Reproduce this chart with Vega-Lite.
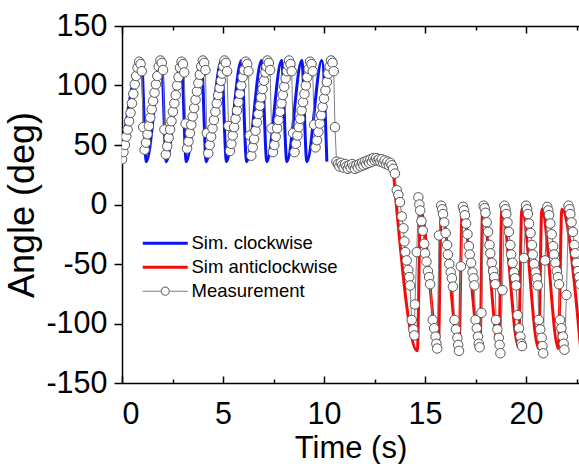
{
  "$schema": "https://vega.github.io/schema/vega-lite/v6.json",
  "autosize": "none",
  "width": 457,
  "height": 357,
  "padding": {"left": 122, "top": 26, "right": 0, "bottom": 81},
  "background": "white",
  "config": {
    "view": {"stroke": null},
    "font": "Liberation Sans",
    "axis": {"grid": false, "domainColor": "black", "tickColor": "black", "domainWidth": 1.5, "tickWidth": 1.5, "labelColor": "black", "titleColor": "black", "labelFont": "Liberation Sans", "titleFont": "Liberation Sans", "titleFontWeight": "normal"}
  },
  "datasets": {
    "sim": [
      {"series": "Sim. clockwise", "t": 0.0, "angle": 45},
      {"series": "Sim. clockwise", "t": 0.96, "angle": 121},
      {"series": "Sim. clockwise", "t": 1.2, "angle": 36},
      {"series": "Sim. clockwise", "t": 1.95, "angle": 121},
      {"series": "Sim. clockwise", "t": 2.19, "angle": 36},
      {"series": "Sim. clockwise", "t": 2.94, "angle": 121},
      {"series": "Sim. clockwise", "t": 3.18, "angle": 36},
      {"series": "Sim. clockwise", "t": 3.93, "angle": 121},
      {"series": "Sim. clockwise", "t": 4.17, "angle": 36},
      {"series": "Sim. clockwise", "t": 4.92, "angle": 121},
      {"series": "Sim. clockwise", "t": 5.17, "angle": 36},
      {"series": "Sim. clockwise", "t": 5.91, "angle": 121},
      {"series": "Sim. clockwise", "t": 6.17, "angle": 36},
      {"series": "Sim. clockwise", "t": 6.91, "angle": 121},
      {"series": "Sim. clockwise", "t": 7.17, "angle": 36},
      {"series": "Sim. clockwise", "t": 7.9, "angle": 121},
      {"series": "Sim. clockwise", "t": 8.16, "angle": 36},
      {"series": "Sim. clockwise", "t": 8.9, "angle": 121},
      {"series": "Sim. clockwise", "t": 9.15, "angle": 36},
      {"series": "Sim. clockwise", "t": 9.89, "angle": 121},
      {"series": "Sim. clockwise", "t": 10.14, "angle": 36},
      {"series": "Sim anticlockwise", "t": 13.42, "angle": 30},
      {"series": "Sim anticlockwise", "t": 14.62, "angle": -123},
      {"series": "Sim anticlockwise", "t": 14.77, "angle": -4},
      {"series": "Sim anticlockwise", "t": 15.66, "angle": -120},
      {"series": "Sim anticlockwise", "t": 15.8, "angle": -4},
      {"series": "Sim anticlockwise", "t": 16.68, "angle": -121},
      {"series": "Sim anticlockwise", "t": 16.84, "angle": -4},
      {"series": "Sim anticlockwise", "t": 17.72, "angle": -120},
      {"series": "Sim anticlockwise", "t": 17.85, "angle": -4},
      {"series": "Sim anticlockwise", "t": 18.65, "angle": -120},
      {"series": "Sim anticlockwise", "t": 18.8, "angle": -4},
      {"series": "Sim anticlockwise", "t": 19.63, "angle": -120},
      {"series": "Sim anticlockwise", "t": 19.79, "angle": -4},
      {"series": "Sim anticlockwise", "t": 20.62, "angle": -121},
      {"series": "Sim anticlockwise", "t": 20.78, "angle": -4},
      {"series": "Sim anticlockwise", "t": 21.6, "angle": -121},
      {"series": "Sim anticlockwise", "t": 21.77, "angle": -4},
      {"series": "Sim anticlockwise", "t": 22.7, "angle": -121}
    ],
    "meas": [
      {"series": "Measurement", "t": 0.00, "angle": 38},
      {"series": "Measurement", "t": 0.07, "angle": 44},
      {"series": "Measurement", "t": 0.14, "angle": 50},
      {"series": "Measurement", "t": 0.21, "angle": 57},
      {"series": "Measurement", "t": 0.28, "angle": 63},
      {"series": "Measurement", "t": 0.35, "angle": 70},
      {"series": "Measurement", "t": 0.42, "angle": 77},
      {"series": "Measurement", "t": 0.49, "angle": 85},
      {"series": "Measurement", "t": 0.56, "angle": 93},
      {"series": "Measurement", "t": 0.63, "angle": 101},
      {"series": "Measurement", "t": 0.70, "angle": 108},
      {"series": "Measurement", "t": 0.77, "angle": 115},
      {"series": "Measurement", "t": 0.85, "angle": 120},
      {"series": "Measurement", "t": 0.92, "angle": 118},
      {"series": "Measurement", "t": 0.98, "angle": 112},
      {"series": "Measurement", "t": 1.05, "angle": 65},
      {"series": "Measurement", "t": 1.12, "angle": 46},
      {"series": "Measurement", "t": 1.19, "angle": 52},
      {"series": "Measurement", "t": 1.26, "angle": 59},
      {"series": "Measurement", "t": 1.33, "angle": 66},
      {"series": "Measurement", "t": 1.40, "angle": 73},
      {"series": "Measurement", "t": 1.47, "angle": 80},
      {"series": "Measurement", "t": 1.54, "angle": 87},
      {"series": "Measurement", "t": 1.61, "angle": 94},
      {"series": "Measurement", "t": 1.68, "angle": 101},
      {"series": "Measurement", "t": 1.75, "angle": 108},
      {"series": "Measurement", "t": 1.82, "angle": 116},
      {"series": "Measurement", "t": 1.90, "angle": 121},
      {"series": "Measurement", "t": 1.97, "angle": 119},
      {"series": "Measurement", "t": 2.03, "angle": 113},
      {"series": "Measurement", "t": 2.10, "angle": 63},
      {"series": "Measurement", "t": 2.17, "angle": 42},
      {"series": "Measurement", "t": 2.24, "angle": 49},
      {"series": "Measurement", "t": 2.31, "angle": 56},
      {"series": "Measurement", "t": 2.38, "angle": 63},
      {"series": "Measurement", "t": 2.45, "angle": 70},
      {"series": "Measurement", "t": 2.52, "angle": 78},
      {"series": "Measurement", "t": 2.59, "angle": 85},
      {"series": "Measurement", "t": 2.66, "angle": 92},
      {"series": "Measurement", "t": 2.73, "angle": 100},
      {"series": "Measurement", "t": 2.80, "angle": 107},
      {"series": "Measurement", "t": 2.87, "angle": 115},
      {"series": "Measurement", "t": 2.95, "angle": 120},
      {"series": "Measurement", "t": 3.02, "angle": 118},
      {"series": "Measurement", "t": 3.08, "angle": 111},
      {"series": "Measurement", "t": 3.15, "angle": 68},
      {"series": "Measurement", "t": 3.22, "angle": 47},
      {"series": "Measurement", "t": 3.29, "angle": 53},
      {"series": "Measurement", "t": 3.36, "angle": 60},
      {"series": "Measurement", "t": 3.43, "angle": 67},
      {"series": "Measurement", "t": 3.50, "angle": 74},
      {"series": "Measurement", "t": 3.57, "angle": 81},
      {"series": "Measurement", "t": 3.64, "angle": 88},
      {"series": "Measurement", "t": 3.71, "angle": 95},
      {"series": "Measurement", "t": 3.78, "angle": 102},
      {"series": "Measurement", "t": 3.85, "angle": 109},
      {"series": "Measurement", "t": 3.92, "angle": 116},
      {"series": "Measurement", "t": 4.00, "angle": 121},
      {"series": "Measurement", "t": 4.07, "angle": 119},
      {"series": "Measurement", "t": 4.13, "angle": 113},
      {"series": "Measurement", "t": 4.20, "angle": 60},
      {"series": "Measurement", "t": 4.27, "angle": 43},
      {"series": "Measurement", "t": 4.34, "angle": 50},
      {"series": "Measurement", "t": 4.41, "angle": 57},
      {"series": "Measurement", "t": 4.48, "angle": 64},
      {"series": "Measurement", "t": 4.55, "angle": 71},
      {"series": "Measurement", "t": 4.62, "angle": 78},
      {"series": "Measurement", "t": 4.69, "angle": 85},
      {"series": "Measurement", "t": 4.76, "angle": 92},
      {"series": "Measurement", "t": 4.83, "angle": 98},
      {"series": "Measurement", "t": 4.90, "angle": 104},
      {"series": "Measurement", "t": 4.96, "angle": 110},
      {"series": "Measurement", "t": 5.01, "angle": 116},
      {"series": "Measurement", "t": 5.07, "angle": 121},
      {"series": "Measurement", "t": 5.14, "angle": 119},
      {"series": "Measurement", "t": 5.20, "angle": 112},
      {"series": "Measurement", "t": 5.27, "angle": 66},
      {"series": "Measurement", "t": 5.34, "angle": 45},
      {"series": "Measurement", "t": 5.41, "angle": 51},
      {"series": "Measurement", "t": 5.48, "angle": 58},
      {"series": "Measurement", "t": 5.55, "angle": 65},
      {"series": "Measurement", "t": 5.62, "angle": 72},
      {"series": "Measurement", "t": 5.69, "angle": 79},
      {"series": "Measurement", "t": 5.76, "angle": 86},
      {"series": "Measurement", "t": 5.83, "angle": 93},
      {"series": "Measurement", "t": 5.90, "angle": 100},
      {"series": "Measurement", "t": 5.97, "angle": 107},
      {"series": "Measurement", "t": 6.04, "angle": 113},
      {"series": "Measurement", "t": 6.13, "angle": 120},
      {"series": "Measurement", "t": 6.20, "angle": 118},
      {"series": "Measurement", "t": 6.26, "angle": 112},
      {"series": "Measurement", "t": 6.33, "angle": 58},
      {"series": "Measurement", "t": 6.40, "angle": 41},
      {"series": "Measurement", "t": 6.47, "angle": 48},
      {"series": "Measurement", "t": 6.54, "angle": 55},
      {"series": "Measurement", "t": 6.61, "angle": 62},
      {"series": "Measurement", "t": 6.68, "angle": 69},
      {"series": "Measurement", "t": 6.75, "angle": 76},
      {"series": "Measurement", "t": 6.82, "angle": 83},
      {"series": "Measurement", "t": 6.89, "angle": 90},
      {"series": "Measurement", "t": 6.96, "angle": 97},
      {"series": "Measurement", "t": 7.03, "angle": 104},
      {"series": "Measurement", "t": 7.10, "angle": 111},
      {"series": "Measurement", "t": 7.15, "angle": 116},
      {"series": "Measurement", "t": 7.20, "angle": 121},
      {"series": "Measurement", "t": 7.27, "angle": 119},
      {"series": "Measurement", "t": 7.33, "angle": 113},
      {"series": "Measurement", "t": 7.40, "angle": 64},
      {"series": "Measurement", "t": 7.47, "angle": 44},
      {"series": "Measurement", "t": 7.54, "angle": 50},
      {"series": "Measurement", "t": 7.61, "angle": 57},
      {"series": "Measurement", "t": 7.68, "angle": 64},
      {"series": "Measurement", "t": 7.75, "angle": 71},
      {"series": "Measurement", "t": 7.82, "angle": 78},
      {"series": "Measurement", "t": 7.89, "angle": 85},
      {"series": "Measurement", "t": 7.96, "angle": 92},
      {"series": "Measurement", "t": 8.03, "angle": 99},
      {"series": "Measurement", "t": 8.10, "angle": 106},
      {"series": "Measurement", "t": 8.17, "angle": 112},
      {"series": "Measurement", "t": 8.22, "angle": 117},
      {"series": "Measurement", "t": 8.27, "angle": 121},
      {"series": "Measurement", "t": 8.34, "angle": 118},
      {"series": "Measurement", "t": 8.40, "angle": 112},
      {"series": "Measurement", "t": 8.47, "angle": 60},
      {"series": "Measurement", "t": 8.54, "angle": 44},
      {"series": "Measurement", "t": 8.61, "angle": 51},
      {"series": "Measurement", "t": 8.68, "angle": 58},
      {"series": "Measurement", "t": 8.75, "angle": 65},
      {"series": "Measurement", "t": 8.82, "angle": 72},
      {"series": "Measurement", "t": 8.89, "angle": 79},
      {"series": "Measurement", "t": 8.96, "angle": 86},
      {"series": "Measurement", "t": 9.03, "angle": 93},
      {"series": "Measurement", "t": 9.10, "angle": 100},
      {"series": "Measurement", "t": 9.17, "angle": 107},
      {"series": "Measurement", "t": 9.24, "angle": 114},
      {"series": "Measurement", "t": 9.31, "angle": 120},
      {"series": "Measurement", "t": 9.38, "angle": 118},
      {"series": "Measurement", "t": 9.44, "angle": 112},
      {"series": "Measurement", "t": 9.51, "angle": 67},
      {"series": "Measurement", "t": 9.58, "angle": 48},
      {"series": "Measurement", "t": 9.65, "angle": 54},
      {"series": "Measurement", "t": 9.72, "angle": 61},
      {"series": "Measurement", "t": 9.79, "angle": 68},
      {"series": "Measurement", "t": 9.86, "angle": 75},
      {"series": "Measurement", "t": 9.93, "angle": 82},
      {"series": "Measurement", "t": 10.00, "angle": 89},
      {"series": "Measurement", "t": 10.07, "angle": 96},
      {"series": "Measurement", "t": 10.14, "angle": 103},
      {"series": "Measurement", "t": 10.21, "angle": 110},
      {"series": "Measurement", "t": 10.28, "angle": 116},
      {"series": "Measurement", "t": 10.35, "angle": 121},
      {"series": "Measurement", "t": 10.42, "angle": 119},
      {"series": "Measurement", "t": 10.48, "angle": 112},
      {"series": "Measurement", "t": 10.54, "angle": 65},
      {"series": "Measurement", "t": 10.62, "angle": 36},
      {"series": "Measurement", "t": 10.69, "angle": 34},
      {"series": "Measurement", "t": 10.76, "angle": 32},
      {"series": "Measurement", "t": 10.83, "angle": 35},
      {"series": "Measurement", "t": 10.90, "angle": 33},
      {"series": "Measurement", "t": 10.97, "angle": 31},
      {"series": "Measurement", "t": 11.04, "angle": 34},
      {"series": "Measurement", "t": 11.11, "angle": 32},
      {"series": "Measurement", "t": 11.18, "angle": 30},
      {"series": "Measurement", "t": 11.25, "angle": 33},
      {"series": "Measurement", "t": 11.32, "angle": 31},
      {"series": "Measurement", "t": 11.39, "angle": 34},
      {"series": "Measurement", "t": 11.46, "angle": 32},
      {"series": "Measurement", "t": 11.53, "angle": 30},
      {"series": "Measurement", "t": 11.60, "angle": 33},
      {"series": "Measurement", "t": 11.67, "angle": 31},
      {"series": "Measurement", "t": 11.74, "angle": 34},
      {"series": "Measurement", "t": 11.81, "angle": 32},
      {"series": "Measurement", "t": 11.88, "angle": 35},
      {"series": "Measurement", "t": 11.95, "angle": 33},
      {"series": "Measurement", "t": 12.02, "angle": 36},
      {"series": "Measurement", "t": 12.09, "angle": 34},
      {"series": "Measurement", "t": 12.16, "angle": 37},
      {"series": "Measurement", "t": 12.23, "angle": 35},
      {"series": "Measurement", "t": 12.30, "angle": 38},
      {"series": "Measurement", "t": 12.37, "angle": 36},
      {"series": "Measurement", "t": 12.44, "angle": 39},
      {"series": "Measurement", "t": 12.51, "angle": 37},
      {"series": "Measurement", "t": 12.58, "angle": 39},
      {"series": "Measurement", "t": 12.65, "angle": 37},
      {"series": "Measurement", "t": 12.72, "angle": 38},
      {"series": "Measurement", "t": 12.79, "angle": 36},
      {"series": "Measurement", "t": 12.86, "angle": 38},
      {"series": "Measurement", "t": 12.93, "angle": 35},
      {"series": "Measurement", "t": 13.00, "angle": 37},
      {"series": "Measurement", "t": 13.07, "angle": 34},
      {"series": "Measurement", "t": 13.14, "angle": 36},
      {"series": "Measurement", "t": 13.21, "angle": 33},
      {"series": "Measurement", "t": 13.28, "angle": 35},
      {"series": "Measurement", "t": 13.35, "angle": 33},
      {"series": "Measurement", "t": 13.42, "angle": 30},
      {"series": "Measurement", "t": 13.51, "angle": 26},
      {"series": "Measurement", "t": 13.60, "angle": 12},
      {"series": "Measurement", "t": 13.68, "angle": 8},
      {"series": "Measurement", "t": 13.76, "angle": 2},
      {"series": "Measurement", "t": 13.85, "angle": -10},
      {"series": "Measurement", "t": 13.93, "angle": -20},
      {"series": "Measurement", "t": 13.98, "angle": -31},
      {"series": "Measurement", "t": 14.02, "angle": -40},
      {"series": "Measurement", "t": 14.09, "angle": -47},
      {"series": "Measurement", "t": 14.17, "angle": -55},
      {"series": "Measurement", "t": 14.22, "angle": -61},
      {"series": "Measurement", "t": 14.26, "angle": -68},
      {"series": "Measurement", "t": 14.34, "angle": -97},
      {"series": "Measurement", "t": 14.42, "angle": -105},
      {"series": "Measurement", "t": 14.47, "angle": -110},
      {"series": "Measurement", "t": 14.50, "angle": -84},
      {"series": "Measurement", "t": 14.59, "angle": -40},
      {"series": "Measurement", "t": 14.67, "angle": 6},
      {"series": "Measurement", "t": 14.72, "angle": 0},
      {"series": "Measurement", "t": 14.76, "angle": -5},
      {"series": "Measurement", "t": 14.82, "angle": -14},
      {"series": "Measurement", "t": 14.89, "angle": -22},
      {"series": "Measurement", "t": 14.96, "angle": -33},
      {"series": "Measurement", "t": 15.00, "angle": -41},
      {"series": "Measurement", "t": 15.07, "angle": -48},
      {"series": "Measurement", "t": 15.14, "angle": -56},
      {"series": "Measurement", "t": 15.20, "angle": -61},
      {"series": "Measurement", "t": 15.25, "angle": -67},
      {"series": "Measurement", "t": 15.38, "angle": -97},
      {"series": "Measurement", "t": 15.45, "angle": -104},
      {"series": "Measurement", "t": 15.52, "angle": -111},
      {"series": "Measurement", "t": 15.56, "angle": -117},
      {"series": "Measurement", "t": 15.60, "angle": -121},
      {"series": "Measurement", "t": 15.69, "angle": -26},
      {"series": "Measurement", "t": 15.80, "angle": -1},
      {"series": "Measurement", "t": 15.85, "angle": -4},
      {"series": "Measurement", "t": 15.89, "angle": -8},
      {"series": "Measurement", "t": 15.95, "angle": -15},
      {"series": "Measurement", "t": 16.02, "angle": -24},
      {"series": "Measurement", "t": 16.09, "angle": -34},
      {"series": "Measurement", "t": 16.13, "angle": -42},
      {"series": "Measurement", "t": 16.20, "angle": -50},
      {"series": "Measurement", "t": 16.27, "angle": -57},
      {"series": "Measurement", "t": 16.33, "angle": -62},
      {"series": "Measurement", "t": 16.38, "angle": -69},
      {"series": "Measurement", "t": 16.46, "angle": -97},
      {"series": "Measurement", "t": 16.53, "angle": -105},
      {"series": "Measurement", "t": 16.60, "angle": -112},
      {"series": "Measurement", "t": 16.64, "angle": -118},
      {"series": "Measurement", "t": 16.68, "angle": -123},
      {"series": "Measurement", "t": 16.77, "angle": -52},
      {"series": "Measurement", "t": 16.88, "angle": -2},
      {"series": "Measurement", "t": 16.93, "angle": -5},
      {"series": "Measurement", "t": 16.97, "angle": -9},
      {"series": "Measurement", "t": 17.03, "angle": -16},
      {"series": "Measurement", "t": 17.10, "angle": -25},
      {"series": "Measurement", "t": 17.17, "angle": -35},
      {"series": "Measurement", "t": 17.21, "angle": -42},
      {"series": "Measurement", "t": 17.28, "angle": -49},
      {"series": "Measurement", "t": 17.35, "angle": -57},
      {"series": "Measurement", "t": 17.40, "angle": -62},
      {"series": "Measurement", "t": 17.44, "angle": -68},
      {"series": "Measurement", "t": 17.50, "angle": -97},
      {"series": "Measurement", "t": 17.56, "angle": -104},
      {"series": "Measurement", "t": 17.62, "angle": -111},
      {"series": "Measurement", "t": 17.66, "angle": -117},
      {"series": "Measurement", "t": 17.70, "angle": -120},
      {"series": "Measurement", "t": 17.79, "angle": -91},
      {"series": "Measurement", "t": 17.90, "angle": -1},
      {"series": "Measurement", "t": 17.95, "angle": -3},
      {"series": "Measurement", "t": 17.99, "angle": -7},
      {"series": "Measurement", "t": 18.05, "angle": -15},
      {"series": "Measurement", "t": 18.12, "angle": -23},
      {"series": "Measurement", "t": 18.19, "angle": -34},
      {"series": "Measurement", "t": 18.23, "angle": -41},
      {"series": "Measurement", "t": 18.30, "angle": -49},
      {"series": "Measurement", "t": 18.37, "angle": -56},
      {"series": "Measurement", "t": 18.43, "angle": -61},
      {"series": "Measurement", "t": 18.48, "angle": -67},
      {"series": "Measurement", "t": 18.51, "angle": -97},
      {"series": "Measurement", "t": 18.58, "angle": -105},
      {"series": "Measurement", "t": 18.65, "angle": -112},
      {"series": "Measurement", "t": 18.69, "angle": -118},
      {"series": "Measurement", "t": 18.73, "angle": -125},
      {"series": "Measurement", "t": 18.83, "angle": -72},
      {"series": "Measurement", "t": 18.93, "angle": -1},
      {"series": "Measurement", "t": 18.98, "angle": -4},
      {"series": "Measurement", "t": 19.02, "angle": -8},
      {"series": "Measurement", "t": 19.08, "angle": -15},
      {"series": "Measurement", "t": 19.15, "angle": -23},
      {"series": "Measurement", "t": 19.22, "angle": -34},
      {"series": "Measurement", "t": 19.26, "angle": -42},
      {"series": "Measurement", "t": 19.33, "angle": -49},
      {"series": "Measurement", "t": 19.40, "angle": -57},
      {"series": "Measurement", "t": 19.46, "angle": -62},
      {"series": "Measurement", "t": 19.51, "angle": -68},
      {"series": "Measurement", "t": 19.58, "angle": -93},
      {"series": "Measurement", "t": 19.65, "angle": -104},
      {"series": "Measurement", "t": 19.72, "angle": -111},
      {"series": "Measurement", "t": 19.76, "angle": -117},
      {"series": "Measurement", "t": 19.80, "angle": -119},
      {"series": "Measurement", "t": 19.89, "angle": -45},
      {"series": "Measurement", "t": 20.00, "angle": -1},
      {"series": "Measurement", "t": 20.05, "angle": -4},
      {"series": "Measurement", "t": 20.09, "angle": -8},
      {"series": "Measurement", "t": 20.15, "angle": -16},
      {"series": "Measurement", "t": 20.22, "angle": -24},
      {"series": "Measurement", "t": 20.29, "angle": -34},
      {"series": "Measurement", "t": 20.33, "angle": -42},
      {"series": "Measurement", "t": 20.40, "angle": -50},
      {"series": "Measurement", "t": 20.47, "angle": -57},
      {"series": "Measurement", "t": 20.53, "angle": -62},
      {"series": "Measurement", "t": 20.58, "angle": -68},
      {"series": "Measurement", "t": 20.63, "angle": -97},
      {"series": "Measurement", "t": 20.70, "angle": -105},
      {"series": "Measurement", "t": 20.77, "angle": -112},
      {"series": "Measurement", "t": 20.81, "angle": -119},
      {"series": "Measurement", "t": 20.85, "angle": -125},
      {"series": "Measurement", "t": 20.94, "angle": -47},
      {"series": "Measurement", "t": 21.05, "angle": -2},
      {"series": "Measurement", "t": 21.10, "angle": -5},
      {"series": "Measurement", "t": 21.14, "angle": -9},
      {"series": "Measurement", "t": 21.20, "angle": -16},
      {"series": "Measurement", "t": 21.27, "angle": -25},
      {"series": "Measurement", "t": 21.34, "angle": -35},
      {"series": "Measurement", "t": 21.38, "angle": -42},
      {"series": "Measurement", "t": 21.45, "angle": -49},
      {"series": "Measurement", "t": 21.52, "angle": -56},
      {"series": "Measurement", "t": 21.58, "angle": -61},
      {"series": "Measurement", "t": 21.63, "angle": -67},
      {"series": "Measurement", "t": 21.68, "angle": -97},
      {"series": "Measurement", "t": 21.75, "angle": -104},
      {"series": "Measurement", "t": 21.82, "angle": -111},
      {"series": "Measurement", "t": 21.86, "angle": -117},
      {"series": "Measurement", "t": 21.90, "angle": -122},
      {"series": "Measurement", "t": 22.00, "angle": -76},
      {"series": "Measurement", "t": 22.10, "angle": -1},
      {"series": "Measurement", "t": 22.15, "angle": -4},
      {"series": "Measurement", "t": 22.19, "angle": -8},
      {"series": "Measurement", "t": 22.25, "angle": -15},
      {"series": "Measurement", "t": 22.32, "angle": -23},
      {"series": "Measurement", "t": 22.39, "angle": -34},
      {"series": "Measurement", "t": 22.43, "angle": -41},
      {"series": "Measurement", "t": 22.50, "angle": -49},
      {"series": "Measurement", "t": 22.57, "angle": -56},
      {"series": "Measurement", "t": 22.63, "angle": -61},
      {"series": "Measurement", "t": 22.68, "angle": -67}
    ]
  },
  "resolve": {"axis": {"x": "independent"}},
  "layer": [
    {
      "data": {"name": "sim"},
      "mark": {"type": "line", "strokeWidth": 3, "interpolate": "monotone", "clip": true},
      "encoding": {
        "x": {"field": "t", "type": "quantitative", "scale": {"domain": [0, 22.62], "nice": false, "zero": false},
          "axis": {"orient": "bottom", "title": "Time (s)", "titleFontSize": 31, "titlePadding": 4, "labelFontSize": 30.5, "labelPadding": 23,
            "values": [0, 2.5, 5, 7.5, 10, 12.5, 15, 17.5, 20, 22.5],
            "labelExpr": "datum.value % 5 === 0 ? datum.label : ''",
            "tickSize": {"condition": {"test": "datum.value % 5 === 0", "value": -7}, "value": -4}}},
        "y": {"field": "angle", "type": "quantitative", "scale": {"domain": [-150, 150], "nice": false},
          "axis": {"title": "Angle (deg)", "titleFontSize": 36, "titlePadding": 4, "labelFontSize": 30.5, "labelPadding": 7,
            "values": [-150, -125, -100, -75, -50, -25, 0, 25, 50, 75, 100, 125, 150],
            "labelExpr": "datum.value % 50 === 0 ? '' + datum.value : ''",
            "tickSize": {"condition": {"test": "datum.value % 50 === 0", "value": 8}, "value": 4}}},
        "detail": {"field": "series"},
        "color": {"field": "series", "type": "nominal",
          "scale": {"domain": ["Sim. clockwise", "Sim anticlockwise", "Measurement"], "range": ["#0a14f5", "#f50a0a", "#7f7f7f"]},
          "legend": {"title": null, "orient": "none", "legendX": 34, "legendY": 208, "padding": 0,
            "labelFontSize": 18.5, "labelFont": "Liberation Sans", "labelColor": "black", "labelOffset": 17,
            "symbolSize": 2025, "symbolStrokeWidth": 3, "rowPadding": 5,
            "encode": {"symbols": {"update": {
              "shape": {"signal": "datum.value === 'Measurement' ? 'M-1,0L-0.18,0M0.18,0L1,0M-0.18,0A0.18,0.18,0,1,1,0.18,0A0.18,0.18,0,1,1,-0.18,0' : 'stroke'"},
              "strokeWidth": {"signal": "datum.value === 'Measurement' ? 1.2 : 3"},
              "fill": {"value": "white"}
            }}}}}
      }
    },
    {
      "data": {"name": "meas"},
      "mark": {"type": "line", "strokeWidth": 1, "clip": true},
      "encoding": {
        "x": {"field": "t", "type": "quantitative", "axis": null},
        "y": {"field": "angle", "type": "quantitative"},
        "color": {"field": "series", "type": "nominal", "legend": null}
      }
    },
    {
      "data": {"name": "meas"},
      "mark": {"type": "point", "filled": false, "fill": "white", "fillOpacity": 1, "stroke": "#555555", "strokeWidth": 1, "size": 90, "opacity": 1, "clip": true},
      "encoding": {
        "x": {"field": "t", "type": "quantitative",
          "axis": {"orient": "top", "title": null, "labels": false, "domain": true,
            "values": [0, 2.5, 5, 7.5, 10, 12.5, 15, 17.5, 20, 22.5],
            "tickSize": {"condition": {"test": "datum.value % 5 === 0", "value": -7}, "value": -4}}},
        "y": {"field": "angle", "type": "quantitative"}
      }
    }
  ]
}
